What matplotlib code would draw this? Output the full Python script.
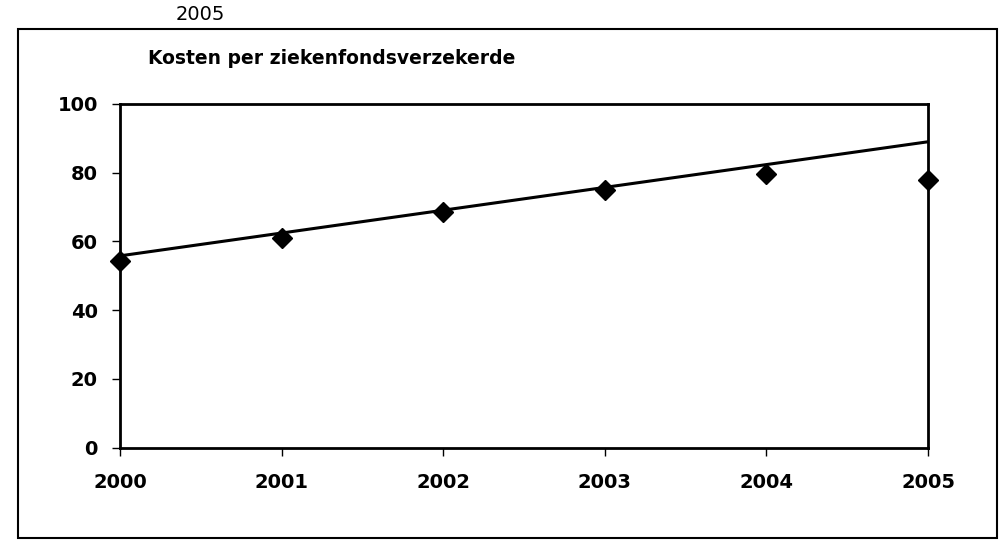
import matplotlib
matplotlib.use("Agg")
import matplotlib.pyplot as plt
from matplotlib.patches import Rectangle

# data
years = [2000, 2001, 2002, 2003, 2004, 2005]
costs = [54.3, 61.0, 68.5, 75.0, 79.5, 78.0]
trend_years = [2000, 2005]
trend_values = [55.8, 89.0]
y_ticks = [0, 20, 40, 60, 80, 100]

title = "Kosten per ziekenfondsverzekerde"
header = "2005"

plt.rcParams["font.family"] = ["DejaVu Sans"]

fig = plt.figure(figsize=(10, 5.56), dpi=100, facecolor="white")
ax = fig.add_axes([0.12, 0.195, 0.808, 0.618])

ax.plot(trend_years, trend_values, color="black", linewidth=2.2, zorder=2)
ax.plot(years, costs, linestyle="none", marker="D", markersize=10,
        color="black", clip_on=False, zorder=3)

ax.set_xlim(years[0], years[-1])
ax.set_ylim(0, 100)
ax.set_xticks(years)
ax.set_yticks(y_ticks)
ax.tick_params(axis="both", direction="out", length=6, width=1,
               labelsize=14, color="black")
ax.tick_params(axis="x", pad=12)
ax.tick_params(axis="y", pad=10)
for lab in ax.get_xticklabels() + ax.get_yticklabels():
    lab.set_fontweight("bold")
for s in ax.spines.values():
    s.set_linewidth(2)
    s.set_color("black")

fig.text(0.148, 0.895, title, ha="left", va="center",
         fontsize=13.5, fontweight="bold")
fig.text(0.2, 0.957, header, ha="center", va="bottom", fontsize=14)

# outer chart-area border
fig.patches.append(Rectangle((0.018, 0.032), 0.979, 0.915, transform=fig.transFigure,
                             fill=False, edgecolor="black", linewidth=1.5))

fig.savefig("out.png", dpi=100, facecolor="white")
